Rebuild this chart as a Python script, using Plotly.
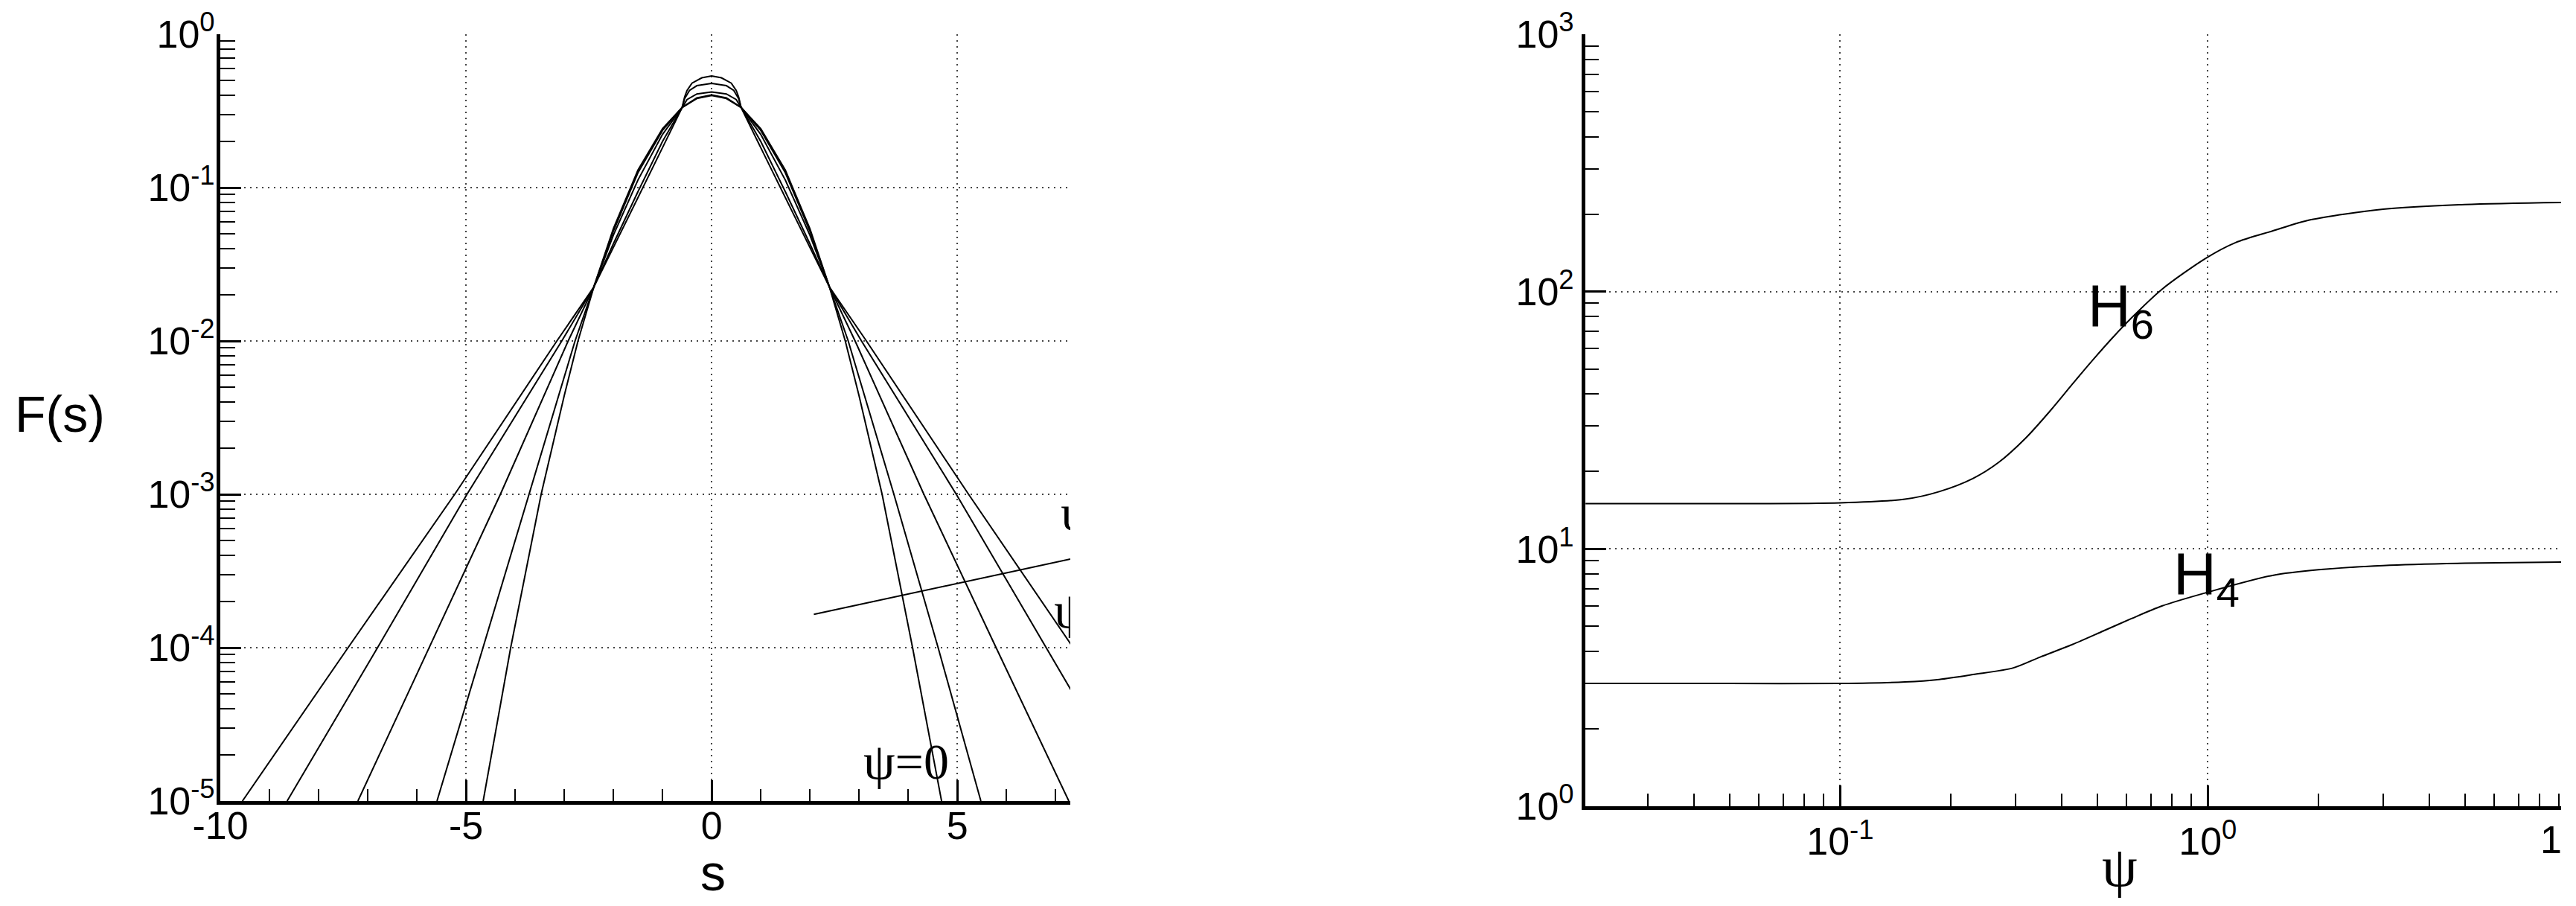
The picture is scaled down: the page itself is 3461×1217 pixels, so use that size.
import plotly.graph_objects as go

W, H = 3461, 1217

# ---------------- left panel data: F(s) for several psi ----------------
s_c1 = [-4.65, -4.09, -3.47, -3.0, -2.72, -2.4, -2.0, -1.5, -1.0, -0.6, -0.3, 0.0,
        0.3, 0.6, 1.0, 1.5, 2.0, 2.4, 2.72, 3.0, 3.47, 4.09, 4.68]
F_c1 = [1e-5, 1e-4, 1e-3, 4.4e-3, 1e-2, 2.24e-2, 5.4e-2, 0.130, 0.242, 0.333, 0.381, 0.399,
        0.381, 0.333, 0.242, 0.130, 5.4e-2, 2.24e-2, 1e-2, 4.4e-3, 1e-3, 1e-4, 1e-5]

s_c2 = [-5.59, -4.65, -3.71, -2.78, -2.4, -2.0, -1.5, -1.0, -0.6, -0.3, 0.0,
        0.3, 0.6, 1.0, 1.5, 2.0, 2.4, 2.78, 3.71, 4.61, 5.48]
F_c2 = [1e-5, 1e-4, 1e-3, 1e-2, 2.24e-2, 5.2e-2, 0.125, 0.236, 0.333, 0.385, 0.402,
        0.385, 0.333, 0.236, 0.125, 5.2e-2, 2.24e-2, 1e-2, 1e-3, 1e-4, 1e-5]

s_c3 = [-7.2, -5.75, -4.3, -2.92, -2.4, -2.0, -1.5, -1.0, -0.6, -0.5, -0.3, 0.0,
        0.3, 0.5, 0.6, 1.0, 1.5, 2.0, 2.4, 2.92, 4.32, 5.79, 7.27]
F_c3 = [1e-5, 1e-4, 1e-3, 1e-2, 2.24e-2, 4.9e-2, 0.112, 0.222, 0.333, 0.375, 0.408, 0.420,
        0.408, 0.375, 0.333, 0.222, 0.112, 4.9e-2, 2.24e-2, 1e-2, 1e-3, 1e-4, 1e-5]

s_c4 = [-8.64, -6.8, -4.98, -3.05, -2.4, -2.0, -1.5, -1.0, -0.6, -0.55, -0.45, -0.3, 0.0,
        0.3, 0.45, 0.55, 0.6, 1.0, 1.5, 2.0, 2.4, 3.05, 4.98, 6.8, 8.64]
F_c4 = [1e-5, 1e-4, 1e-3, 1e-2, 2.24e-2, 4.3e-2, 9.4e-2, 0.200, 0.333, 0.380, 0.430, 0.462, 0.478,
        0.462, 0.430, 0.380, 0.333, 0.200, 9.4e-2, 4.3e-2, 2.24e-2, 1e-2, 1e-3, 1e-4, 1e-5]

s_c5 = [-9.55, -7.4, -5.23, -3.15, -2.4, -2.0, -1.5, -1.0, -0.6, -0.55, -0.5, -0.4, -0.2, 0.0,
        0.2, 0.4, 0.5, 0.55, 0.6, 1.0, 1.5, 2.0, 2.4, 3.15, 5.23, 7.36, 9.5]
F_c5 = [1e-5, 1e-4, 1e-3, 1e-2, 2.24e-2, 4.1e-2, 8.6e-2, 0.182, 0.333, 0.390, 0.430, 0.480, 0.520, 0.535,
        0.520, 0.480, 0.430, 0.390, 0.333, 0.182, 8.6e-2, 4.1e-2, 2.24e-2, 1e-2, 1e-3, 1e-4, 1e-5]

left_curves = [(s_c1, F_c1), (s_c2, F_c2), (s_c3, F_c3), (s_c4, F_c4), (s_c5, F_c5)]

# label leader line in left panel
lead_s = [2.08, 7.3]
lead_F = [1.65e-4, 3.78e-4]

# clipped labels at right edge of left panel
clip_s = [7.106, 6.97]
clip_F = [7.1e-4, 1.64e-4]
clip_txt = ["\u03c8=2", "\u03c8=1"]

# ---------------- right panel data: H4, H6 vs psi ----------------
psi6 = [0.0203, 0.05, 0.1, 0.15, 0.186, 0.23, 0.27, 0.32, 0.374, 0.43, 0.49, 0.55, 0.62,
        0.75, 0.99, 1.19, 1.5, 1.9, 3.0, 5.0, 9.15]
H6 = [15.0, 15.0, 15.1, 15.6, 16.7, 18.8, 21.7, 27.0, 34.6, 44.0, 54.8, 66.0, 79.0,
      102.0, 135.0, 155.0, 172.0, 190.0, 209.0, 218.0, 222.0]

psi4 = [0.0203, 0.05, 0.1, 0.15, 0.186, 0.23, 0.296, 0.35, 0.428, 0.52, 0.62, 0.75,
        0.99, 1.5, 2.0, 3.0, 5.0, 9.15]
H4 = [3.0, 3.0, 3.0, 3.04, 3.11, 3.25, 3.45, 3.8, 4.25, 4.8, 5.36, 6.0,
      6.76, 7.89, 8.3, 8.62, 8.8, 8.89]

# tick definitions
left_xticks = [-10, -5, 0, 5]
left_xtext = ["-10", "-5", "0", "5"]
left_yexp = [-5, -4, -3, -2, -1, 0]
right_yexp = [0, 1, 2, 3]
right_xexp = [-1, 0]

fig = go.Figure()

for s, F in left_curves:
    fig.add_trace(go.Scatter(x=s, y=F, mode="lines", line=dict(color="black", width=2),
                             xaxis="x", yaxis="y", showlegend=False, hoverinfo="skip"))
fig.add_trace(go.Scatter(x=lead_s, y=lead_F, mode="lines", line=dict(color="black", width=2),
                         xaxis="x", yaxis="y", showlegend=False, hoverinfo="skip"))
fig.add_trace(go.Scatter(x=clip_s, y=clip_F, mode="text", text=clip_txt, textposition="middle right",
                         textfont=dict(family="Liberation Serif", size=68, color="black"),
                         cliponaxis=True, xaxis="x", yaxis="y", showlegend=False, hoverinfo="skip"))

fig.add_trace(go.Scatter(x=psi6, y=H6, mode="lines", line=dict(color="black", width=2, shape="spline", smoothing=0.8),
                         xaxis="x2", yaxis="y2", showlegend=False, hoverinfo="skip"))
fig.add_trace(go.Scatter(x=psi4, y=H4, mode="lines", line=dict(color="black", width=2, shape="spline", smoothing=0.8),
                         xaxis="x2", yaxis="y2", showlegend=False, hoverinfo="skip"))

tickfont = dict(family="Liberation Sans, Arial", size=52, color="black")
common = dict(showgrid=True, gridcolor="#444", gridwidth=2, griddash="2px,6px",
              automargin=False, showline=True, linewidth=5, linecolor="black", zeroline=False,
              ticks="inside", ticklen=28, tickwidth=3, tickcolor="black", tickfont=tickfont)

left_yminor = [m * 10.0 ** e for e in range(-5, 0) for m in range(2, 10)]
right_yminor = [m * 10.0 ** e for e in range(0, 3) for m in range(2, 10)]
right_xminor = [m * 10.0 ** e for e in range(-2, 1) for m in range(2, 10) if m * 10.0 ** e > 0.0203]

fig.update_layout(
    width=W, height=H, margin=dict(l=0, r=0, t=0, b=0, pad=0, autoexpand=False),
    paper_bgcolor="white", plot_bgcolor="white", showlegend=False,
    font=dict(family="Liberation Sans, Arial", color="black"),
    xaxis=dict(domain=[288 / W, 1430 / W], anchor="y", range=[-10, 7.3],
               tickmode="array", tickvals=left_xticks, ticktext=left_xtext, ticklabelstandoff=-16,
               minor=dict(ticks="inside", ticklen=16, tickwidth=2, tickcolor="black", dtick=1, showgrid=False),
               **common),
    yaxis=dict(domain=[1 - 1068 / H, 1 - 38 / H], anchor="x", type="log", range=[-5, 0],
               tickmode="array", tickvals=[10.0 ** e for e in left_yexp],
               ticktext=[f"10<sup>{e}</sup>" for e in left_yexp], ticklabelstandoff=-8,
               minor=dict(ticks="inside", ticklen=20, tickwidth=2, tickcolor="black",
                          tickvals=left_yminor, showgrid=False),
               **common),
    xaxis2=dict(domain=[2122 / W, 3433 / W], anchor="y2", type="log", range=[-1.693, 0.961],
                tickmode="array", tickvals=[10.0 ** e for e in right_xexp],
                ticktext=[f"10<sup>{e}</sup>" for e in right_xexp], ticklabelstandoff=-2,
                minor=dict(ticks="inside", ticklen=17, tickwidth=2, tickcolor="black",
                           tickvals=right_xminor, showgrid=False),
                **common),
    yaxis2=dict(domain=[1 - 1075 / H, 1 - 38 / H], anchor="x2", type="log", range=[0, 3],
                tickmode="array", tickvals=[10.0 ** e for e in right_yexp],
                ticktext=[f"10<sup>{e}</sup>" for e in right_yexp], ticklabelstandoff=0,
                minor=dict(ticks="inside", ticklen=18, tickwidth=2, tickcolor="black",
                           tickvals=right_yminor, showgrid=False),
                **common),
)

def px(x, y):
    return x / W, 1 - y / H

annots = [
    ("F(s)", 72, 548, "center", "middle", "Liberation Sans, Arial", 68),
    ("s", 950, 1164, "center", "middle", "Liberation Sans, Arial", 68),
    ("\u03c8", 2840, 1156, "center", "middle", "Liberation Serif", 76),
    ("\u03c8=0", 1150, 1015, "left", "middle", "Liberation Serif", 68),
    ("H<sub>6</sub>", 2795, 408, "left", "middle", "Liberation Sans, Arial", 80),
    ("H<sub>4</sub>", 2910, 768, "left", "middle", "Liberation Sans, Arial", 80),
    ("1", 3419, 1120, "center", "middle", "Liberation Sans, Arial", 52),
]
for txt, x, y, xa, ya, fam, sz in annots:
    ax_, ay_ = px(x, y)
    fig.add_annotation(text=txt, x=ax_, y=ay_, xref="paper", yref="paper", xanchor=xa, yanchor=ya,
                       showarrow=False, font=dict(family=fam, size=sz, color="black"))

fig.write_html("out.html")
